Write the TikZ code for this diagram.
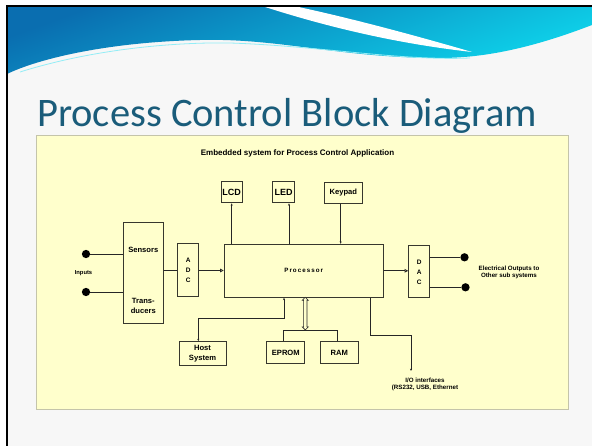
\documentclass[tikz,border=0pt]{standalone}
\usepackage{fontspec}
\setmainfont{Liberation Sans}
\newfontfamily\titlefont{Carlito}
\usetikzlibrary{arrows.meta,shapes.arrows}
\definecolor{panel}{RGB}{255,255,204}
\definecolor{panelline}{RGB}{196,196,170}
\definecolor{slidebg}{RGB}{247,247,247}
\definecolor{titleblue}{RGB}{26,92,122}
\definecolor{hdrblue}{RGB}{10,110,176}
\definecolor{hdrcyan}{RGB}{14,214,236}
\definecolor{boxline}{RGB}{55,55,45}
\newcommand{\fsz}[1]{\bfseries\fontsize{#1}{#1}\selectfont}

\begin{document}
\begin{tikzpicture}[x=1pt,y=-1pt]
\tikzstyle{every node}+=[inner sep=0pt]
\tikzstyle{blk}=[draw=boxline,line width=1pt,fill=panel,font=\fsz{7.6}]
\tikzstyle{wire}=[draw=black!85,line width=0.75pt]
\tikzstyle{dot}=[circle,fill=black,minimum size=8.3pt]
\tikzstyle{tip}=[-{Stealth[length=2.4pt,width=2pt]}]
\tikzstyle{opentip}=[-{Triangle[open,length=3.6pt,width=3.6pt]}]
\useasboundingbox (0,0) rectangle (592,446);
% slide and header
\fill[white] (0,0) rectangle (592,446);
\fill[slidebg] (7,6) rectangle (592,446);
\shade[top color=hdrblue,bottom color=hdrcyan,shading angle=20]
  (7,6) -- (592,6) -- (592,25) .. controls (540,45) and (490,58) .. (440,58)
  .. controls (340,58) and (280,38) .. (200,40) .. controls (110,42) and (40,58) .. (7,74) -- cycle;
\fill[white] (262,6) .. controls (330,28) and (400,44) .. (472,52)
  .. controls (410,34) and (350,18) .. (294,6) -- cycle;
\draw[hdrcyan!45,line width=0.8pt] (20,72) .. controls (90,50) and (170,42) .. (230,43)
  .. controls (320,46) and (400,61) .. (470,58);
\draw[black,line width=2pt] (7,446) -- (7,6) -- (592,6);
\node[anchor=base west,text=titleblue,font=\titlefont\fontsize{40.5}{44}\selectfont] (title) at (37,127) {Process Control Block Diagram};
% panel
\draw[panelline,fill=panel,line width=0.8pt] (36,135) rectangle (568,409);
\node[font=\fsz{8}] (dtitle) at (297.5,153) {Embedded system for Process Control Application};
% blocks
\node[blk,minimum width=21pt,minimum height=21pt,font=\fsz{9}] (lcd) at (231.7,192.3) {LCD};
\node[blk,minimum width=22pt,minimum height=21pt,font=\fsz{9}] (led) at (283.7,192.3) {LED};
\node[blk,minimum width=38pt,minimum height=21pt] (keypad) at (343.3,192.8) {Keypad};
\node[blk,minimum width=40pt,minimum height=101pt] (sensors) at (143.3,273.5) {};
\node[font=\fsz{7.6}] (senstxt) at (143.3,250) {Sensors};
\node[font=\fsz{7.6},align=center] (transtxt) at (143.3,306) {Trans-\\[2.4pt]ducers};
\node[blk,minimum width=21pt,minimum height=53pt,align=center,font=\fsz{6.5}] (adc) at (188.2,270.5) {A\\[3.5pt]D\\[3.5pt]C};
\node[blk,minimum width=159pt,minimum height=53pt,font=\bfseries\fontsize{6.2}{6.2}\selectfont\addfontfeature{LetterSpace=17}] (proc) at (303.7,270.8) {Processor};
\node[blk,minimum width=21pt,minimum height=52pt,align=center,font=\fsz{6.5}] (dac) at (419.2,272) {D\\[3.5pt]A\\[3.5pt]C};
\node[blk,minimum width=47pt,minimum height=24pt,align=center] (host) at (202.5,353.7) {Host\\[2.4pt]System};
\node[blk,minimum width=38pt,minimum height=21.6pt] (eprom) at (285.8,352.5) {EPROM};
\node[blk,minimum width=38pt,minimum height=21.6pt] (ram) at (339.3,352.5) {RAM};
% terminals
\node[dot] (in1) at (86,254) {};
\node[dot] (in2) at (86,292) {};
\node[font=\fsz{5.8}] (inlbl) at (83.5,273.5) {Inputs};
\node[dot] (out1) at (464.5,257.3) {};
\node[dot] (out2) at (465.5,287.3) {};
\node[font=\fsz{6.2},align=center] (outlbl) at (509,272.5) {Electrical Outputs to\\[0.6pt]Other sub systems};
% memory bus
\node[double arrow,draw=black!85,line width=0.6pt,fill=panel,rotate=90,inner sep=1.4pt,
  minimum height=32.7pt,double arrow head extend=1.3pt,double arrow head indent=0pt] (bus) at (305.3,313.6) {};
% connectors
\draw[wire] (in1) -- (in1 -| sensors.west);
\draw[wire] (in2) -- (in2 -| sensors.west);
\draw[wire] (sensors.east |- adc.west) -- (adc.west);
\draw[wire,opentip] (adc.east) -- (adc.east -| proc.west);
\draw[wire,opentip] (proc.east) -- (proc.east -| dac.west);
\draw[wire] (out1 -| dac.east) -- (out1);
\draw[wire] (out2 -| dac.east) -- (out2);
\draw[wire,tip] (lcd.south |- proc.north) -- (lcd.south);
\coordinate (ledin) at ([xshift=5.3pt]led.south);
\draw[wire,tip] (ledin |- proc.north) -- (ledin);
\coordinate (keyout) at ([xshift=-2.6pt]keypad.south);
\draw[wire,tip] (keyout) -- (keyout |- proc.north);
\coordinate (hostin) at ([xshift=-4.2pt]host.north);
\coordinate (prochost) at ([xshift=-19.7pt]proc.south);
\draw[wire,{Stealth[length=2.4pt,width=2pt]}-{Stealth[length=2.4pt,width=2pt]}] (hostin) -- ++(0,-22.4) -| (prochost);
\coordinate (epin) at ([xshift=-2.5pt]eprom.north);
\coordinate (ramin) at ([xshift=-1.6pt]ram.north);
\draw[wire] (epin) |- (bus.west) -| (ramin);
\coordinate (procio) at ([xshift=66.6pt]proc.south);
\coordinate (ioend) at (411,371);
\draw[wire,tip] (procio) -- ++(0,37.7) -| (ioend);
\node[font=\fsz{6.2},align=center] (iotxt) at (425,384) {I/O interfaces\\[0.9pt](RS232, USB, Ethernet};
\end{tikzpicture}
\end{document}
